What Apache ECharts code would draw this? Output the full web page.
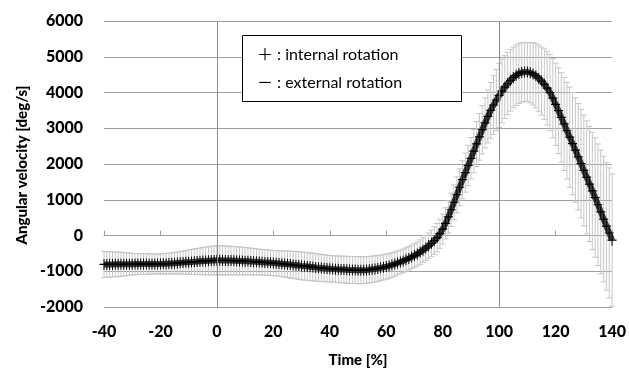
<!DOCTYPE html>
<html>
<head>
<meta charset="UTF-8">
<title></title>
<style>
    html, body { margin: 0; padding: 0; background: #fff; }
    #container { width: 629px; height: 373px; }
</style>
</head>
<body>
<div id="container"></div>
<script src="https://cdn.jsdelivr.net/npm/echarts@6/dist/echarts.min.js"></script>
<script>
// time axis runs -40 .. 140 % in steps of 1
var timeStart = -40;
var timeEnd = 140;

// mean angular velocity [deg/s], one value per 1 %
var meanVelocity = [
    -810, -810, -809, -808, -807, -806, -805, -804, -803, -802, -801,
    -800, -800, -799, -799, -798, -798, -797, -797, -796, -795,
    -793, -790, -786, -781, -776, -770, -764, -758, -751, -745,
    -740, -734, -728, -722, -716, -710, -705, -701, -698, -695,
    -695, -696, -697, -699, -701, -704, -707, -710, -714, -718,
    -722, -727, -732, -737, -742, -748, -753, -758, -764, -770,
    -776, -783, -790, -797, -805, -813, -822, -831, -840, -850,
    -857, -865, -874, -883, -892, -900, -908, -916, -923, -930,
    -936, -941, -946, -950, -954, -958, -962, -965, -968, -970,
    -972, -970, -965, -955, -945, -935, -920, -905, -890, -870,
    -850, -825, -800, -770, -740, -710, -675, -640, -600, -560,
    -515, -465, -410, -350, -290, -220, -145, -60, 50, 180,
    340, 520, 720, 930, 1140, 1350, 1560, 1760, 1960, 2160,
    2360, 2560, 2760, 2960, 3150, 3330, 3500, 3650, 3790, 3920,
    4040, 4150, 4250, 4340, 4420, 4480, 4530, 4560, 4575, 4570,
    4555, 4520, 4470, 4400, 4320, 4230, 4120, 4000, 3840, 3670,
    3490, 3305, 3120, 2930, 2750, 2570, 2390, 2200, 2010, 1820,
    1630, 1440, 1250, 1060, 860, 660, 460, 260, 70, -130
];

// standard deviation [deg/s]
var sdVelocity = [
    360, 357, 354, 351, 348, 345, 339, 327, 318, 309, 300,
    297, 294, 291, 288, 285, 284, 283, 282, 281, 280,
    284, 288, 292, 296, 300, 308, 316, 324, 332, 340,
    348, 356, 364, 372, 380, 386, 392, 398, 404, 410,
    408, 406, 404, 402, 400, 396, 392, 388, 384, 380,
    376, 372, 368, 364, 360, 358, 356, 354, 352, 350,
    354, 358, 362, 366, 370, 374, 378, 382, 386, 390,
    389, 388, 387, 386, 385, 382, 379, 376, 373, 370,
    371, 372, 373, 374, 375, 376, 377, 378, 379, 380,
    378, 376, 374, 372, 370, 366, 362, 358, 354, 350,
    346, 342, 338, 334, 330, 330, 330, 330, 330, 330,
    336, 342, 348, 354, 360, 372, 384, 396, 408, 420,
    436, 452, 468, 484, 500, 516, 532, 548, 564, 580,
    604, 628, 652, 676, 700, 740, 780, 820, 860, 900,
    890, 880, 870, 860, 850, 844, 838, 832, 826, 820,
    846, 872, 898, 924, 950, 990, 1030, 1070, 1110, 1150,
    1200, 1250, 1300, 1350, 1400, 1430, 1460, 1490, 1520, 1550,
    1580, 1610, 1640, 1670, 1700, 1730, 1760, 1790, 1820, 1850
];

var eventLines = [0, 100];
var legendLines = ['＋ : internal rotation', '－ : external rotation'];
var yTitle = 'Angular velocity [deg/s]';

var lineData = [];
var barData = [];
for (var i = 0; i < meanVelocity.length; i++) {
    var t = timeStart + i;
    lineData.push([t, meanVelocity[i]]);
    barData.push([t, meanVelocity[i], sdVelocity[i]]);
}

var font = 'Lato, "Noto Sans", sans-serif';
var gridColor = '#a0a0a0';

var myChart = echarts.init(document.getElementById('container'));
myChart.setOption({
    animation: false,
    grid: { left: 104, right: 16, top: 21, bottom: 65 },
    xAxis: [
        {
            type: 'value', min: timeStart, max: timeEnd, interval: 20,
            position: 'bottom',
            name: 'Time [%]', nameLocation: 'middle', nameGap: 46,
            nameTextStyle: { fontFamily: font, fontWeight: 900, fontSize: 15, color: '#000' },
            axisLine: { show: false, onZero: false },
            axisTick: { show: false },
            splitLine: { show: false },
            axisLabel: { fontFamily: font, fontWeight: 900, fontSize: 16, color: '#000', margin: 17 }
        },
        {
            type: 'value', min: timeStart, max: timeEnd, interval: 20,
            position: 'bottom',
            axisLine: { show: true, onZero: true, lineStyle: { color: gridColor, width: 1 } },
            axisTick: { show: true, inside: true, length: 5, lineStyle: { color: gridColor } },
            axisLabel: { show: false },
            splitLine: { show: false }
        }
    ],
    yAxis: {
        type: 'value', min: -2000, max: 6000, interval: 1000,
        axisLine: { show: false },
        axisTick: { show: false },
        axisLabel: {
            fontFamily: font, fontWeight: 900, fontSize: 16, color: '#000', margin: 21,
            formatter: function (v) { return String(v); }
        },
        splitLine: { lineStyle: { color: gridColor, width: 1 } }
    },
    series: [
        {
            type: 'custom',
            xAxisIndex: 0,
            data: barData,
            encode: { x: 0, y: [1] },
            z: 2,
            renderItem: function (params, api) {
                var x = api.value(0);
                var m = api.value(1);
                var s = api.value(2);
                var hi = api.coord([x, m + s]);
                var lo = api.coord([x, m - s]);
                var w = 3;
                var st = { stroke: '#c6c6c6', lineWidth: 1 };
                return {
                    type: 'group',
                    children: [
                        { type: 'line', shape: { x1: hi[0], y1: hi[1], x2: lo[0], y2: lo[1] }, style: st },
                        { type: 'line', shape: { x1: hi[0] - w, y1: hi[1], x2: hi[0] + w, y2: hi[1] }, style: st },
                        { type: 'line', shape: { x1: lo[0] - w, y1: lo[1], x2: lo[0] + w, y2: lo[1] }, style: st }
                    ]
                };
            },
            markLine: {
                silent: true,
                symbol: 'none',
                label: { show: false },
                lineStyle: { color: '#8c8c8c', width: 1, type: 'solid' },
                data: eventLines.map(function (v) { return { xAxis: v }; })
            }
        },
        {
            type: 'line',
            xAxisIndex: 0,
            data: lineData,
            z: 3,
            showAllSymbol: true,
            symbol: 'path://M4,0L5,0L5,9L4,9Z M0,4L9,4L9,5L0,5Z',
            symbolSize: [9, 11],
            itemStyle: { color: '#000' },
            lineStyle: { color: '#3c3c3c', width: 6 }
        }
    ],
    graphic: [
        {
            type: 'text', z: 11, x: 22, y: 165, rotation: Math.PI / 2,
            style: {
                text: yTitle, font: '900 15px Lato, "Noto Sans", sans-serif', fill: '#000',
                align: 'center', verticalAlign: 'middle'
            }
        },
        {
            type: 'rect', z: 10,
            shape: { x: 242.5, y: 35.5, width: 219, height: 66 },
            style: { fill: '#fff', stroke: '#000', lineWidth: 1 }
        },
        {
            type: 'text', z: 11, x: 257, y: 55,
            style: { text: legendLines[0], font: '16px Lato, "Noto Sans CJK JP", sans-serif', fill: '#000', verticalAlign: 'middle' }
        },
        {
            type: 'text', z: 11, x: 257, y: 83,
            style: { text: legendLines[1], font: '16px Lato, "Noto Sans CJK JP", sans-serif', fill: '#000', verticalAlign: 'middle' }
        }
    ]
});
</script>
</body>
</html>
